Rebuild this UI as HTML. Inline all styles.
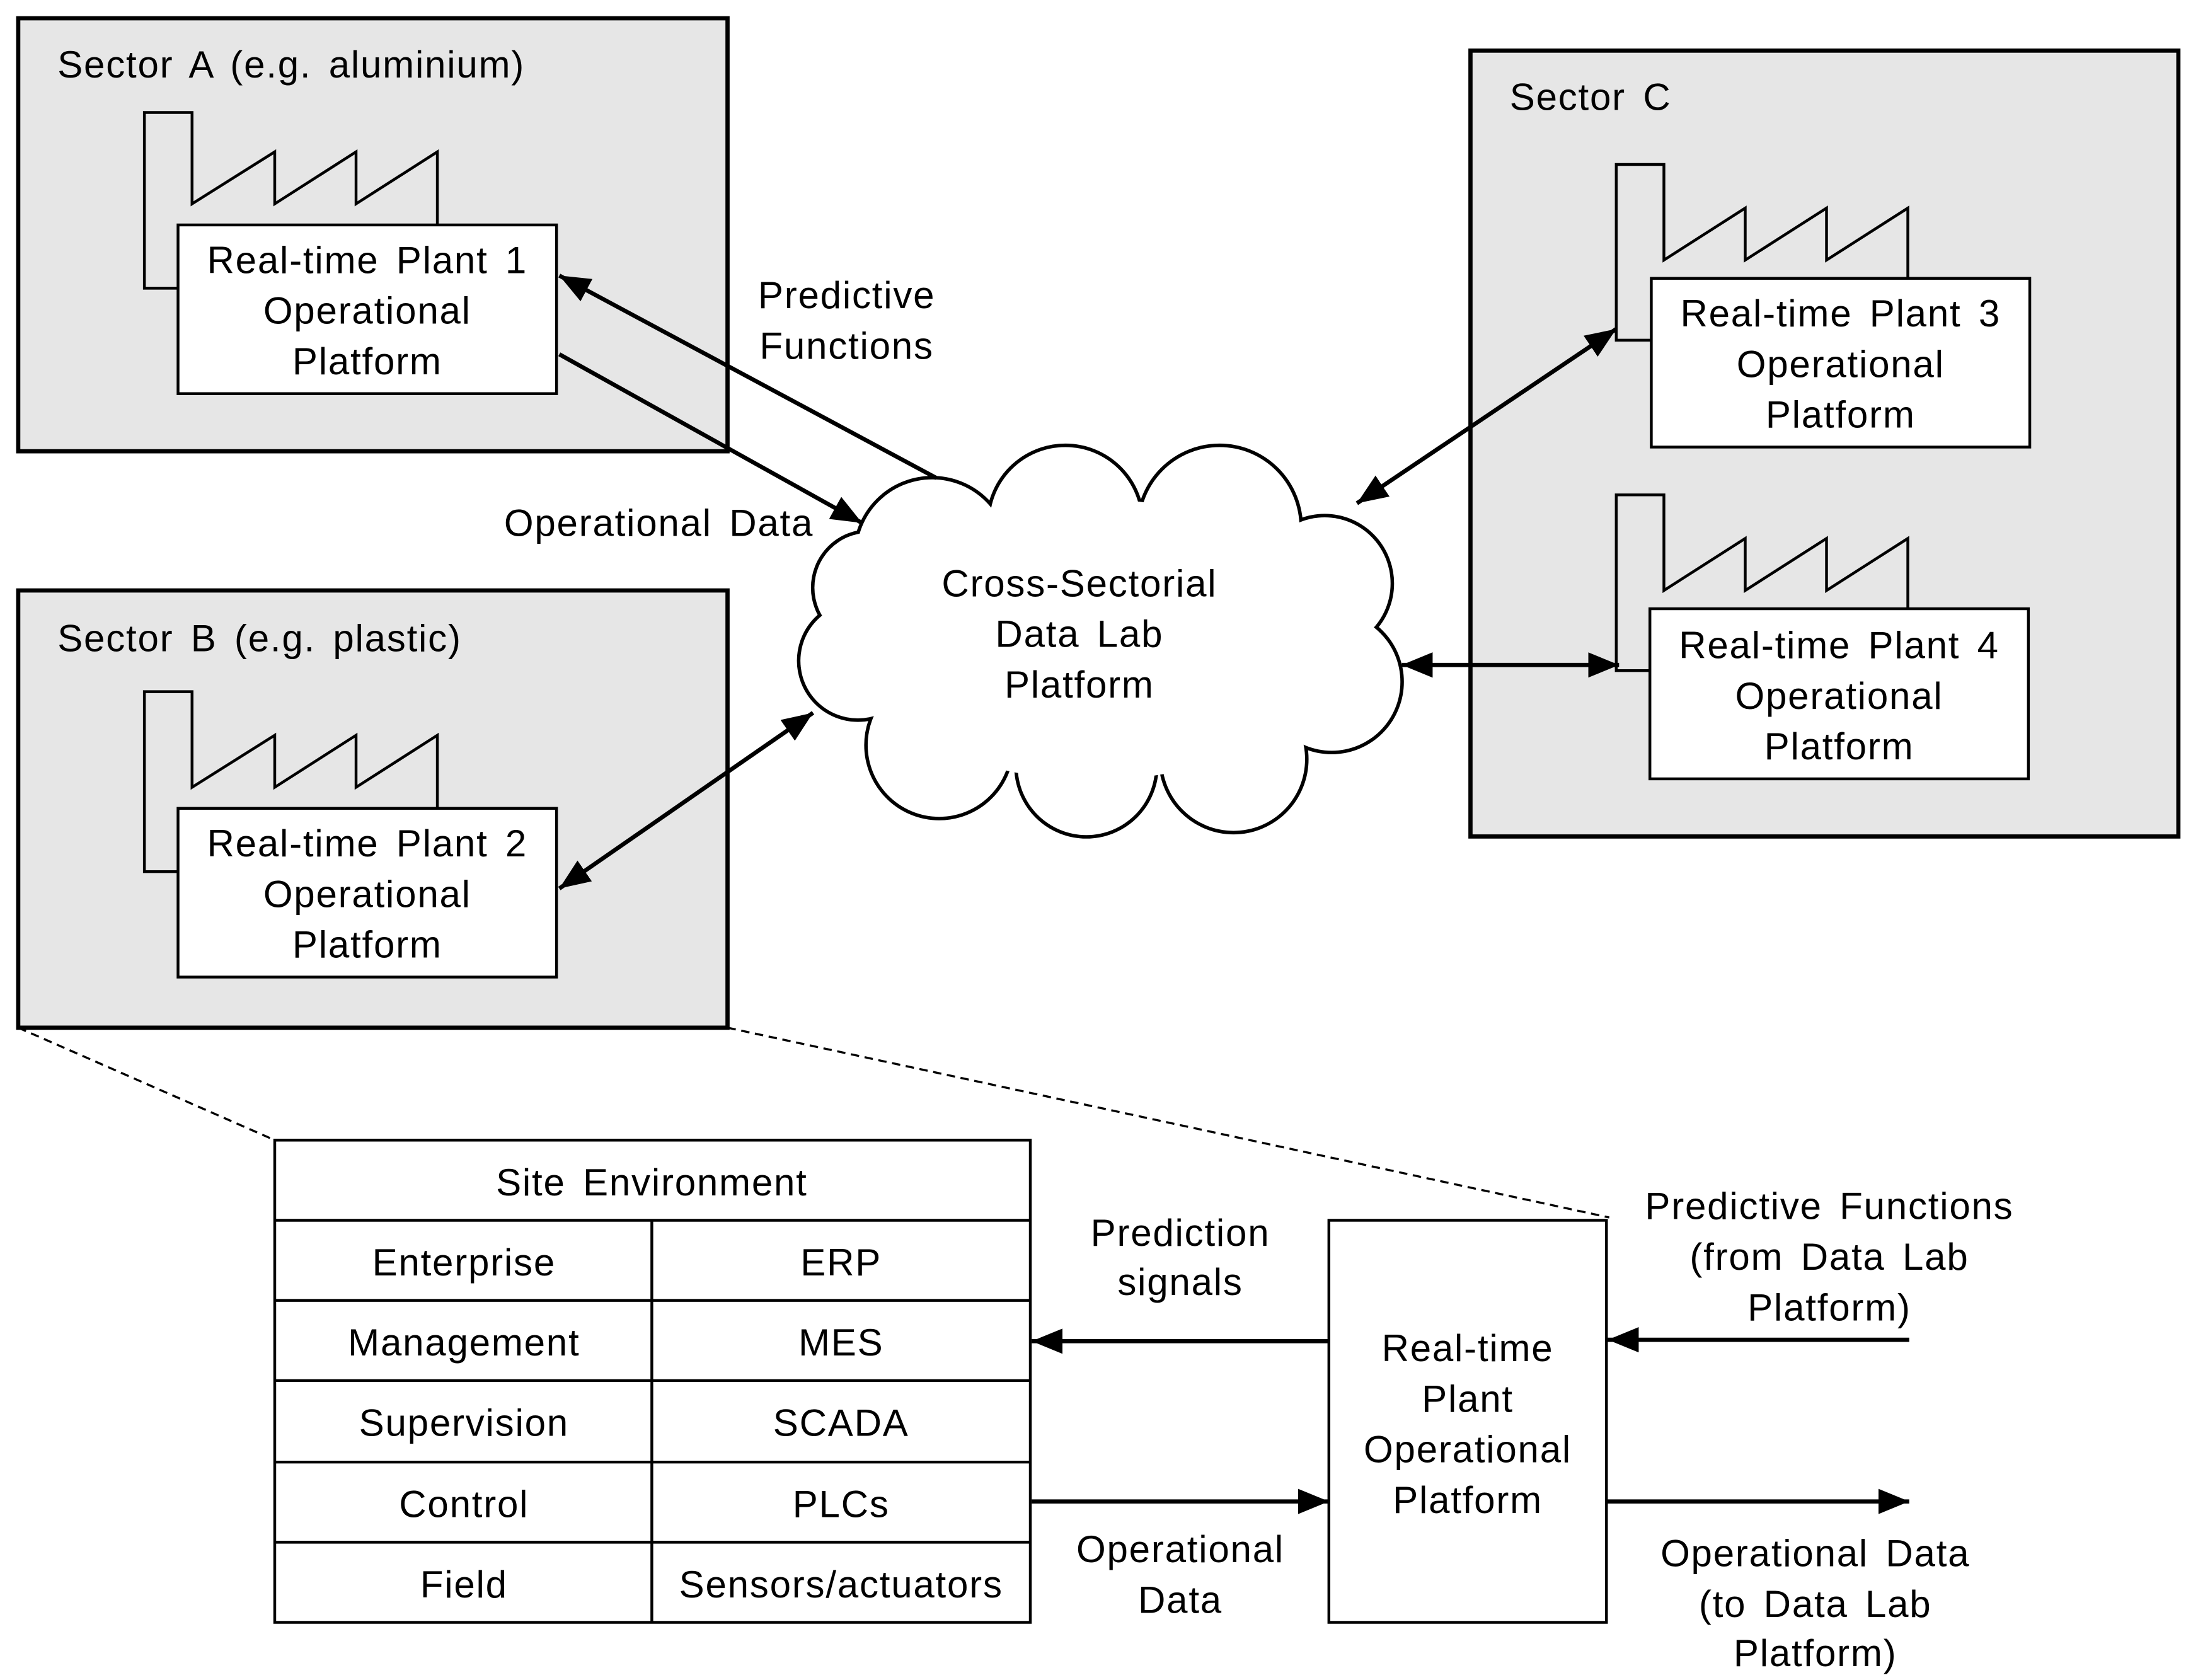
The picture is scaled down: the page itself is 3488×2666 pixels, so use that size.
<!DOCTYPE html>
<html><head><meta charset="utf-8"><style>html,body{margin:0;padding:0;background:#fff}svg{display:block}</style></head>
<body>
<svg width="3488" height="2666" viewBox="0 0 1568 1195" preserveAspectRatio="none" xmlns="http://www.w3.org/2000/svg">
<defs>
<marker id="ah" markerUnits="userSpaceOnUse" markerWidth="24" markerHeight="18" refX="22" refY="9" orient="auto-start-reverse">
<path d="M0,0 L22,9 L0,18 Z" fill="#000"/>
</marker>
</defs>
<g font-family="Liberation Sans, Arial, sans-serif" font-size="27" letter-spacing="0.8" word-spacing="4" fill="#000">
<rect x="13" y="13" width="506" height="308" fill="#e6e6e6" stroke="#000" stroke-width="3"/>
<rect x="13" y="420" width="506" height="311" fill="#e6e6e6" stroke="#000" stroke-width="3"/>
<rect x="1049" y="36" width="505" height="559" fill="#e6e6e6" stroke="#000" stroke-width="3"/>
<text x="41" y="46" dominant-baseline="central">Sector A (e.g. aluminium)</text>
<text x="41" y="454" dominant-baseline="central">Sector B (e.g. plastic)</text>
<text x="1077" y="69" dominant-baseline="central">Sector C</text>

<g fill="none" stroke="#000" stroke-width="2">
<path d="M127,205 L103,205 L103,80 L137,80 L137,145 L196,108 L196,145 L254,108 L254,145 L312,108 L312,160"/>
<path d="M127,620 L103,620 L103,492 L137,492 L137,560 L196,523 L196,560 L254,523 L254,560 L312,523 L312,575"/>
<path d="M1178,242 L1153,242 L1153,117 L1187,117 L1187,185 L1245,148 L1245,185 L1303,148 L1303,185 L1361,148 L1361,198"/>
<path d="M1177,477 L1153,477 L1153,352 L1187,352 L1187,420 L1245,383 L1245,420 L1303,383 L1303,420 L1361,383 L1361,433"/>
</g>
<g fill="#fff" stroke="#000" stroke-width="2">
<rect x="127" y="160" width="270" height="120"/>
<rect x="127" y="575" width="270" height="120"/>
<rect x="1178" y="198" width="270" height="120"/>
<rect x="1177" y="433" width="270" height="121"/>
</g>
<g text-anchor="middle" dominant-baseline="central">
<text x="262" y="185">Real-time Plant 1</text><text x="262" y="221">Operational</text><text x="262" y="257">Platform</text>
<text x="262" y="600">Real-time Plant 2</text><text x="262" y="636">Operational</text><text x="262" y="672">Platform</text>
<text x="1313" y="223">Real-time Plant 3</text><text x="1313" y="259">Operational</text><text x="1313" y="295">Platform</text>
<text x="1312" y="459">Real-time Plant 4</text><text x="1312" y="495">Operational</text><text x="1312" y="531">Platform</text>
</g>

<g stroke="#000" stroke-width="3" fill="#fff">
<circle cx="665" cy="395" r="55"/><circle cx="760" cy="372" r="55"/><circle cx="870" cy="375" r="58"/>
<circle cx="945" cy="415" r="48"/><circle cx="950" cy="485" r="50"/><circle cx="880" cy="540" r="52"/>
<circle cx="775" cy="545" r="50"/><circle cx="670" cy="530" r="52"/><circle cx="612" cy="470" r="42"/><circle cx="620" cy="418" r="40"/>
</g>
<g fill="#fff">
<circle cx="665" cy="395" r="54"/><circle cx="760" cy="372" r="54"/><circle cx="870" cy="375" r="57"/>
<circle cx="945" cy="415" r="47"/><circle cx="950" cy="485" r="49"/><circle cx="880" cy="540" r="51"/>
<circle cx="775" cy="545" r="49"/><circle cx="670" cy="530" r="51"/><circle cx="612" cy="470" r="41"/><circle cx="620" cy="418" r="39"/>
<ellipse cx="780" cy="455" rx="170" ry="100"/>
</g>
<g text-anchor="middle" dominant-baseline="central">
<text x="770" y="415">Cross-Sectorial</text><text x="770" y="451">Data Lab</text><text x="770" y="487">Platform</text>
<text x="604" y="210">Predictive</text><text x="604" y="246">Functions</text>
<text x="470" y="372">Operational  Data</text>
</g>

<g stroke="#000" stroke-width="3" fill="none">
<line x1="668" y1="340" x2="399" y2="196" marker-end="url(#ah)"/>
<line x1="399" y1="252" x2="615" y2="372" marker-end="url(#ah)"/>
<line x1="399" y1="632" x2="580" y2="507" marker-start="url(#ah)" marker-end="url(#ah)"/>
<line x1="968" y1="358" x2="1153" y2="234" marker-start="url(#ah)" marker-end="url(#ah)"/>
<line x1="1000" y1="473" x2="1155" y2="473" marker-start="url(#ah)" marker-end="url(#ah)"/>
<line x1="948" y1="954" x2="736" y2="954" marker-end="url(#ah)"/>
<line x1="736" y1="1068" x2="948" y2="1068" marker-end="url(#ah)"/>
<line x1="1362" y1="953" x2="1147" y2="953" marker-end="url(#ah)"/>
<line x1="1147" y1="1068" x2="1362" y2="1068" marker-end="url(#ah)"/>
</g>

<g stroke="#000" stroke-width="1.5" stroke-dasharray="6,4">
<line x1="13" y1="731" x2="196" y2="811"/>
<line x1="519" y1="731" x2="1148" y2="866"/>
</g>

<g stroke="#000" stroke-width="2" fill="#fff">
<rect x="196" y="811" width="539" height="343"/>
<line x1="196" y1="868" x2="735" y2="868"/><line x1="196" y1="925" x2="735" y2="925"/>
<line x1="196" y1="982" x2="735" y2="982"/><line x1="196" y1="1040" x2="735" y2="1040"/>
<line x1="196" y1="1097" x2="735" y2="1097"/><line x1="465" y1="868" x2="465" y2="1154"/>
<rect x="948" y="868" width="198" height="286"/>
</g>
<g text-anchor="middle" dominant-baseline="central">
<text x="465" y="841">Site Environment</text>
<text x="331" y="898">Enterprise</text><text x="600" y="898">ERP</text>
<text x="331" y="955">Management</text><text x="600" y="955">MES</text>
<text x="331" y="1012">Supervision</text><text x="600" y="1012">SCADA</text>
<text x="331" y="1070">Control</text><text x="600" y="1070">PLCs</text>
<text x="331" y="1127">Field</text><text x="600" y="1127">Sensors/actuators</text>
<text x="1047" y="959">Real-time</text><text x="1047" y="995">Plant</text><text x="1047" y="1031">Operational</text><text x="1047" y="1067">Platform</text>
<text x="842" y="877">Prediction</text><text x="842" y="912">signals</text>
<text x="842" y="1102">Operational</text><text x="842" y="1138">Data</text>
<text x="1305" y="858">Predictive  Functions</text><text x="1305" y="894">(from Data Lab</text><text x="1305" y="930">Platform)</text>
<text x="1295" y="1105">Operational Data</text><text x="1295" y="1141">(to Data Lab</text><text x="1295" y="1176">Platform)</text>
</g>
</g>
</svg>
</body></html>
